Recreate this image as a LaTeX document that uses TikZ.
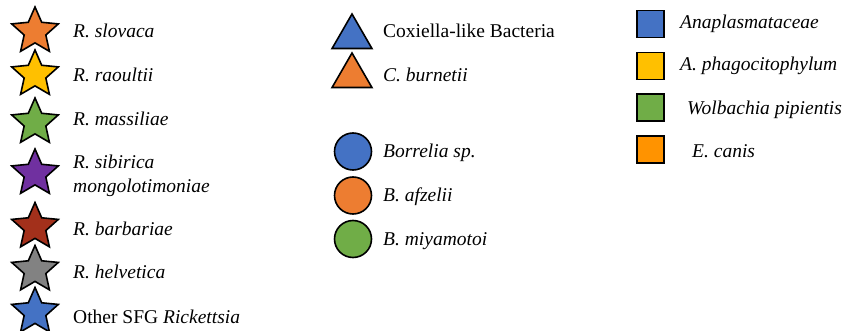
\documentclass[tikz,border=0pt]{standalone}
\usepackage{fontspec}
\setmainfont{LiberationSerif}[Extension=.ttf,UprightFont=*-Regular,
  ItalicFont=*-Italic,BoldFont=*-Bold,BoldItalicFont=*-BoldItalic]
\usetikzlibrary{positioning,shapes.geometric}
\definecolor{mBlue}{HTML}{4472C4}
\definecolor{mOrange}{HTML}{ED7D31}
\definecolor{mYellow}{HTML}{FFC000}
\definecolor{mGreen}{HTML}{70AD47}
\definecolor{mPurple}{HTML}{7030A0}
\definecolor{mRed}{HTML}{A3301B}
\definecolor{mGray}{HTML}{828282}
\definecolor{mAmber}{HTML}{FF9300}

\begin{document}
\begin{tikzpicture}[
  x=1pt,y=-1pt,
  font=\fontsize{19.5}{24}\selectfont,
  icon/.style={draw,line width=1.6pt,inner sep=0pt},
  starmark/.style={icon,star,star points=5,star point ratio=2.15,
                   minimum size=49pt},
  trimark/.style={icon,regular polygon,regular polygon sides=3,
                  minimum size=46pt},
  dotmark/.style={icon,circle,minimum size=37pt},
  boxmark/.style={icon,rectangle,minimum size=27pt},
  lab/.style={anchor=base west,inner sep=0pt,align=left}
]
\useasboundingbox (0,0) rectangle (848,331);

% Rickettsia column
\node[starmark,fill=mOrange] (slo) at (35,31.5) {};
\node[starmark,fill=mYellow] (rao) at (35,74.5) {};
\node[starmark,fill=mGreen]  (mas) at (35,122.5) {};
\node[starmark,fill=mPurple] (sib) at (35,173.5) {};
\node[starmark,fill=mRed]    (bar) at (35,227) {};
\node[starmark,fill=mGray]   (hel) at (35,270) {};
\node[starmark,fill=mBlue]   (oth) at (35,312) {};
\node[lab] (slo-l) at (73,38) {\textit{R. slovaca}};
\node[lab] (rao-l) at (73,81.5) {\textit{R. raoultii}};
\node[lab] (mas-l) at (73,126) {\textit{R. massiliae}};
\node[lab,anchor=west] (sib-l) at (73,175.5) {\textit{R. sibirica}\\
 \textit{mongolotimoniae}};
\node[lab] (bar-l) at (73,235) {\textit{R. barbariae}};
\node[lab] (hel-l) at (73,278) {\textit{R. helvetica}};
\node[lab] (oth-l) at (73,323) {Other SFG \textit{Rickettsia}};

% Coxiella and Borrelia column
\node[trimark,fill=mBlue]   (cox) at (352,37) {};
\node[trimark,fill=mOrange] (bur) at (352,76) {};
\node[lab] (cox-l) at (383,38) {Coxiella-like Bacteria};
\node[lab] (bur-l) at (383,82) {\textit{C. burnetii}};
\node[dotmark,fill=mBlue]   (bsp) at (353,151.5) {};
\node[dotmark,fill=mOrange] (baf) at (353,195.5) {};
\node[dotmark,fill=mGreen]  (bmi) at (353,239) {};
\node[lab] (bsp-l) at (383,158) {\textit{Borrelia sp.}};
\node[lab] (baf-l) at (383,201) {\textit{B. afzelii}};
\node[lab] (bmi-l) at (383,245) {\textit{B. miyamotoi}};

% Anaplasmataceae column
\node[boxmark,fill=mBlue]   (ana) at (650.5,24) {};
\node[boxmark,fill=mYellow] (aph) at (650.5,66) {};
\node[boxmark,fill=mGreen]  (wol) at (650.5,107.5) {};
\node[boxmark,fill=mAmber]  (eca) at (650.5,149.5) {};
\node[lab] (ana-l) at (680,28.5) {\textit{Anaplasmataceae}};
\node[lab] (aph-l) at (680,71) {\textit{A. phagocitophylum}};
\node[lab] (wol-l) at (687,115) {\textit{Wolbachia pipientis}};
\node[lab] (eca-l) at (692,158) {\textit{E. canis}};
\end{tikzpicture}
\end{document}
